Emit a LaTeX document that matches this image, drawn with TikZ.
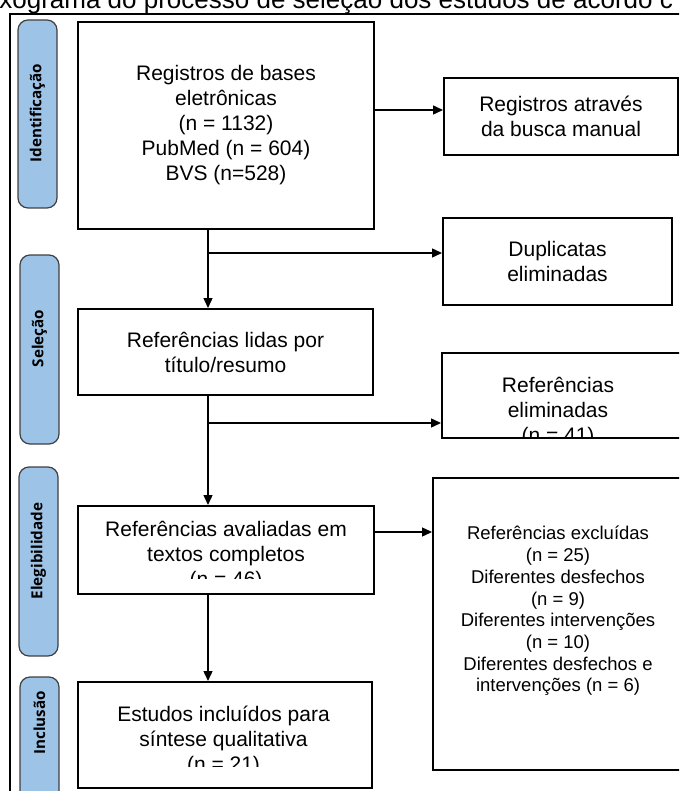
\documentclass[tikz,border=0pt]{standalone}
\usepackage{fontspec}
\setmainfont{Liberation Sans}
\newfontfamily\rotfont{Open Sans}
\usetikzlibrary{arrows.meta}
\definecolor{azul}{RGB}{157,195,230}

\tikzset{
  caixa/.style={draw,line width=1pt,inner sep=0pt,align=center,font=\fontsize{10.5}{12.5}\selectfont},
  texto/.style={inner sep=0pt,align=center,font=\fontsize{10.5}{12.5}\selectfont},
  etapa/.style={draw=black!75,line width=0.6pt,fill=azul,rounded corners=5pt,minimum width=19.5pt},
  rotulo/.style={rotate=90,inner sep=0pt,font=\rotfont\bfseries\fontsize{7.6}{9}\selectfont},
  seta/.style={line width=0.7pt,-{Triangle[length=5pt,width=4.5pt]}}
}

\begin{document}
\begin{tikzpicture}[x=0.5pt,y=-0.5pt]
  \useasboundingbox (0,0) rectangle (679,791);
  \clip (0,0) rectangle (679,791);

  % titulo e moldura
  \node[anchor=base west,inner sep=0pt,font=\fontsize{13}{15}\selectfont] (titulo) at (-1,9)
    {xograma do processo de seleção dos estudos de acordo c};
  \draw[line width=1.2pt] (10,14) rectangle (720,840);

  % etapas
  \node[etapa,minimum height=94pt] (ident) at (37.5,114) {};
  \node[rotulo] (t-ident) at (37.5,113) {Identificação};
  \node[etapa,minimum height=94.5pt] (sel) at (39.5,349.5) {};
  \node[rotulo] (t-sel) at (39.5,338.5) {Seleção};
  \node[etapa,minimum height=94.5pt] (eleg) at (38.5,561.5) {};
  \node[rotulo] (t-eleg) at (38.5,551) {Elegibilidade};
  \node[etapa,minimum height=96pt] (inclu) at (39.5,773) {};
  \node[rotulo] (t-inclu) at (39.5,723) {Inclusão};

  % coluna principal
  \node[caixa,minimum width=148pt,minimum height=103.5pt] (reg) at (226,125.5)
    {Registros de bases\\eletrônicas\\(n = 1132)\\PubMed (n = 604)\\BVS (n=528)};
  \node[caixa,minimum width=147.5pt,minimum height=43pt] (lidas) at (225.5,352)
    {Referências lidas por\\título/resumo};
  \node[caixa,minimum width=148pt,minimum height=44pt] (aval) at (226,550) {};
  \begin{scope}
    \clip (78,506) rectangle (374,578);
    \node[texto,anchor=north] (t-aval) at (226,521)
      {Referências avaliadas em\\textos completos\\(n = 46)};
  \end{scope}
  \node[caixa,minimum width=147pt,minimum height=53pt] (incl) at (225,735) {};
  \begin{scope}
    \clip (78,682) rectangle (372,766);
    \node[texto,anchor=north] (t-incl) at (223.5,706)
      {Estudos incluídos para\\síntese qualitativa\\(n = 21)};
  \end{scope}

  % coluna lateral
  \node[caixa,minimum width=117pt,minimum height=38.5pt] (busca) at (561,116.5)
    {Registros através\\da busca manual};
  \node[caixa,minimum width=114.5pt,minimum height=43.5pt] (dup) at (557.5,261.5)
    {Duplicatas\\eliminadas};
  \node[caixa,minimum width=129pt,minimum height=42.5pt] (elim) at (571,395.5) {};
  \begin{scope}
    \clip (442,353) rectangle (700,438);
    \node[texto,anchor=north] (t-elim) at (558,377)
      {Referências\\eliminadas\\(n = 41)};
  \end{scope}
  \node[caixa,minimum width=133.5pt,minimum height=146pt] (excl) at (566.5,624) {};
  \node[texto,font=\fontsize{9.25}{10.85}\selectfont] (t-excl) at (558,611)
    {Referências excluídas\\(n = 25)\\Diferentes desfechos\\(n = 9)\\Diferentes intervenções\\(n = 10)\\Diferentes desfechos e\\intervenções (n = 6)};

  % setas
  \coordinate (eixo) at (208,0);
  \coordinate (ram0) at (374,110);
  \coordinate (ram1) at (208,253);
  \coordinate (ram2) at (208,423);
  \coordinate (ram3) at (374,532);
  \draw[seta] (ram0) -- (ram0 -| busca.west);
  \draw[seta] (reg.south -| eixo) -- (lidas.north -| eixo);
  \draw[seta] (ram1) -- (ram1 -| dup.west);
  \draw[seta] (lidas.south -| eixo) -- (aval.north -| eixo);
  \draw[seta] (ram2) -- (ram2 -| elim.west);
  \draw[seta] (aval.south -| eixo) -- (incl.north -| eixo);
  \draw[seta] (ram3) -- (ram3 -| excl.west);
\end{tikzpicture}
\end{document}
